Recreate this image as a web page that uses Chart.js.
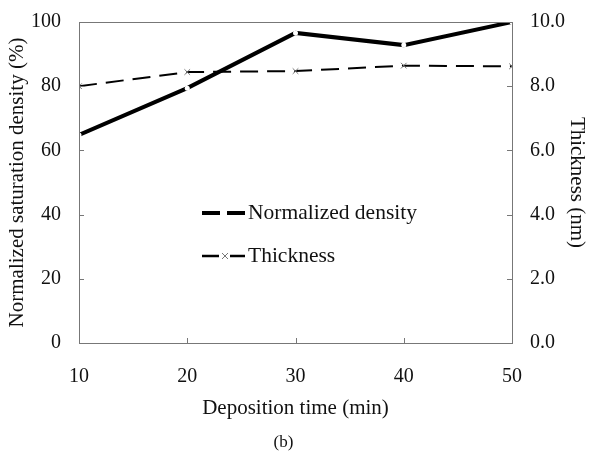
<!DOCTYPE html>
<html>
<head>
<meta charset="utf-8">
<script src="https://cdn.jsdelivr.net/npm/chart.js@4/dist/chart.umd.min.js"></script>
<style>
  html, body { margin: 0; padding: 0; background: #fff; }
  #wrap { width: 591px; height: 452px; }
</style>
</head>
<body>
<div id="wrap"><canvas id="chart"></canvas></div>
<script>
// values
const times = [10, 20, 30, 40, 50];                  // deposition time (min)
const density = [64.8, 79.4, 96.6, 92.8, 100];       // normalized saturation density (%)
const thickness = [8.0, 8.44, 8.47, 8.64, 8.62];     // thickness (nm)
const leftTicks = [0, 20, 40, 60, 80, 100];
const rightTicks = [0, 2, 4, 6, 8, 10];
const xTicks = [10, 20, 30, 40, 50];

const serif = "'Liberation Serif', 'Times New Roman', serif";

// frame, inward tick marks, the legend in the plot and the (b) caption
const framePlugin = {
  id: 'frame',
  afterDatasetsDraw(chart) {
    const ctx = chart.ctx;
    const a = chart.chartArea;
    const sx = chart.scales.x, sy = chart.scales.y, sy2 = chart.scales.y2;
    ctx.save();
    ctx.strokeStyle = '#777';
    ctx.lineWidth = 1;
    ctx.strokeRect(Math.round(a.left) + 0.5, Math.round(a.top) + 0.5, Math.round(a.right - a.left), Math.round(a.bottom - a.top));
    ctx.beginPath();
    leftTicks.forEach(v => {
      const y = Math.round(sy.getPixelForValue(v)) + 0.5;
      ctx.moveTo(a.left, y); ctx.lineTo(a.left + 5, y);
    });
    rightTicks.forEach(v => {
      const y = Math.round(sy2.getPixelForValue(v)) + 0.5;
      ctx.moveTo(a.right, y); ctx.lineTo(a.right - 5, y);
    });
    xTicks.forEach(v => {
      const x = Math.round(sx.getPixelForValue(v)) + 0.5;
      ctx.moveTo(x, a.bottom); ctx.lineTo(x, a.bottom - 5);
    });
    ctx.stroke();

    // legend
    const lx = a.left + 123, ly1 = a.top + 191, ly2 = a.top + 234;
    ctx.strokeStyle = '#000';
    ctx.lineWidth = 4;
    ctx.beginPath();
    ctx.moveTo(lx, ly1); ctx.lineTo(lx + 18, ly1);
    ctx.moveTo(lx + 25, ly1); ctx.lineTo(lx + 43, ly1);
    ctx.stroke();
    ctx.lineWidth = 2.5;
    ctx.beginPath();
    ctx.moveTo(lx, ly2); ctx.lineTo(lx + 17, ly2);
    ctx.moveTo(lx + 28, ly2); ctx.lineTo(lx + 43, ly2);
    ctx.stroke();
    ctx.strokeStyle = '#777';
    ctx.lineWidth = 1;
    ctx.beginPath();
    ctx.moveTo(lx + 20, ly2 - 3); ctx.lineTo(lx + 26, ly2 + 3);
    ctx.moveTo(lx + 20, ly2 + 3); ctx.lineTo(lx + 26, ly2 - 3);
    ctx.stroke();
    ctx.fillStyle = '#111';
    ctx.font = '21.5px ' + serif;
    ctx.textBaseline = 'middle';
    ctx.fillText('Normalized density', lx + 46, ly1);
    ctx.fillText('Thickness', lx + 46, ly2);

    // caption under the axis title
    ctx.font = '17px ' + serif;
    ctx.textAlign = 'center';
    ctx.fillText('(b)', (a.left + a.right) / 2 - 12, chart.height - 9);
    ctx.restore();
  }
};

new Chart(document.getElementById('chart').getContext('2d'), {
  type: 'line',
  data: {
    datasets: [{
      label: 'Normalized density',
      data: times.map((t, i) => ({ x: t, y: density[i] })),
      yAxisID: 'y',
      borderColor: '#000',
      borderWidth: 4,
      pointRadius: 2.5,
      pointBackgroundColor: '#fff',
      pointBorderWidth: 0,
      order: 0
    }, {
      label: 'Thickness',
      data: times.map((t, i) => ({ x: t, y: thickness[i] })),
      yAxisID: 'y2',
      borderColor: '#000',
      borderWidth: 2,
      borderDash: [18, 9],
      pointStyle: 'crossRot',
      pointRadius: 4,
      pointBorderColor: '#777',
      pointBorderWidth: 1,
      order: 1
    }]
  },
  options: {
    responsive: true,
    maintainAspectRatio: false,
    animation: false,
    layout: { padding: { top: 17, left: 0, right: 0, bottom: 29 } },
    plugins: {
      legend: { display: false },
      tooltip: { enabled: false },
      title: { display: false }
    },
    scales: {
      x: {
        type: 'linear',
        min: 10, max: 50,
        afterBuildTicks: s => { s.ticks = xTicks.map(v => ({ value: v })); },
        afterFit: s => { s.height = 80; },
        grid: { display: false },
        border: { display: false },
        ticks: { color: '#111', font: { family: serif, size: 20 }, padding: 14, maxRotation: 0 },
        title: { display: true, text: 'Deposition time (min)', color: '#111', font: { family: serif, size: 21 }, padding: { top: 0, bottom: 2 } }
      },
      y: {
        position: 'left',
        min: 0, max: 100,
        afterBuildTicks: s => { s.ticks = leftTicks.map(v => ({ value: v })); },
        afterFit: s => { s.width = 79; },
        grid: { display: false },
        border: { display: false },
        ticks: { color: '#111', font: { family: serif, size: 20 }, padding: 10 },
        title: { display: true, text: 'Normalized saturation density (%)', color: '#111', font: { family: serif, size: 21 }, padding: { top: 5, bottom: 0 } }
      },
      y2: {
        position: 'right',
        min: 0, max: 10,
        afterBuildTicks: s => { s.ticks = rightTicks.map(v => ({ value: v })); },
        afterFit: s => { s.width = 79; },
        grid: { display: false },
        border: { display: false },
        ticks: { color: '#111', font: { family: serif, size: 20 }, padding: 10, callback: v => v.toFixed(1) },
        title: { display: true, text: 'Thickness (nm)', color: '#111', font: { family: serif, size: 21 }, padding: { top: 2, bottom: 0 } }
      }
    }
  },
  plugins: [framePlugin]
});
</script>
</body>
</html>
